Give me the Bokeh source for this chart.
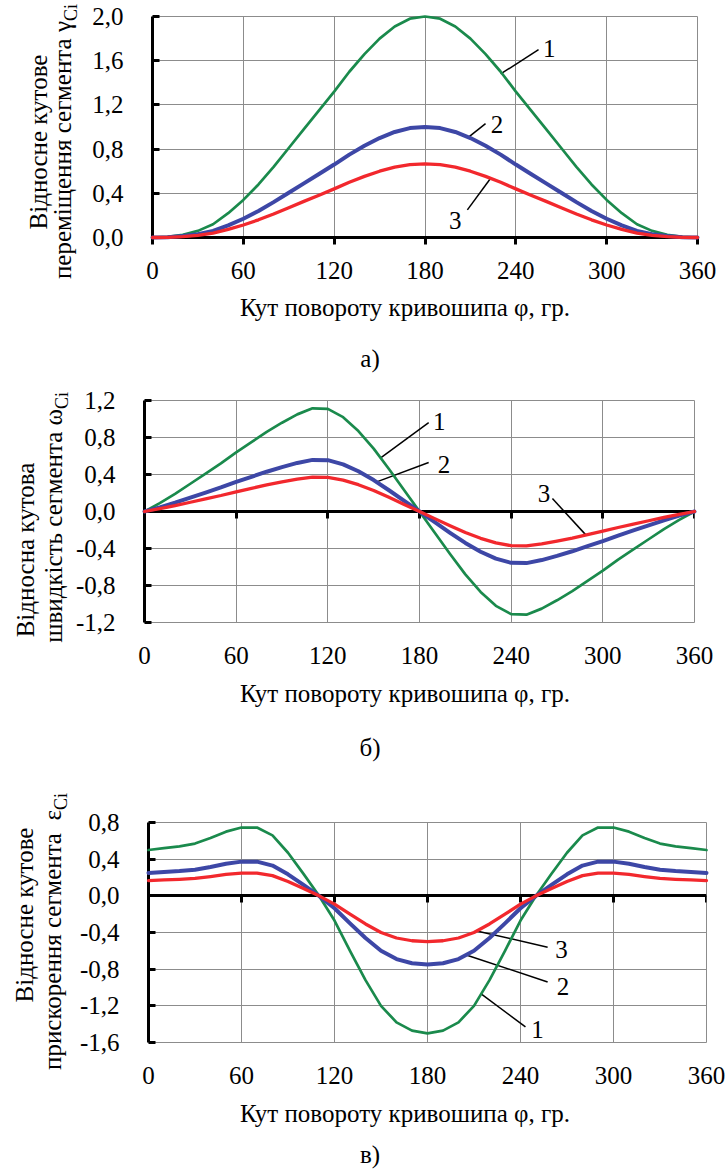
from bokeh.plotting import figure
from bokeh.models import Range1d, FixedTicker, LinearAxis, ColumnDataSource, Div
from bokeh.layouts import column, row
from bokeh.core.properties import value
from bokeh.embed import file_html
from bokeh.resources import INLINE

# ---------------- data ----------------
phi = [0, 10, 20, 30, 40, 50, 60, 70, 80, 90, 100, 110, 120, 130, 140, 150, 160, 170, 180,
       190, 200, 210, 220, 230, 240, 250, 260, 270, 280, 290, 300, 310, 320, 330, 340, 350, 360]
x_ticks = [0, 60, 120, 180, 240, 300, 360]
x_tick_labels = ["0", "60", "120", "180", "240", "300", "360"]

# a) relative angular displacement
gamma_1 = [0, 0.005, 0.025, 0.06, 0.12, 0.22, 0.34, 0.48, 0.64, 0.81, 0.98, 1.15, 1.32, 1.50, 1.66, 1.80, 1.91, 1.98, 2.00,
           1.98, 1.91, 1.80, 1.66, 1.50, 1.32, 1.15, 0.98, 0.81, 0.64, 0.48, 0.34, 0.22, 0.12, 0.06, 0.025, 0.005, 0]
gamma_2 = [0, 0.003, 0.013, 0.03, 0.06, 0.11, 0.17, 0.24, 0.32, 0.405, 0.49, 0.575, 0.66, 0.75, 0.83, 0.90, 0.955, 0.99, 1.00,
           0.99, 0.955, 0.90, 0.83, 0.75, 0.66, 0.575, 0.49, 0.405, 0.32, 0.24, 0.17, 0.11, 0.06, 0.03, 0.013, 0.003, 0]
gamma_3 = [0, 0.002, 0.008, 0.02, 0.04, 0.073, 0.113, 0.16, 0.213, 0.27, 0.327, 0.383, 0.44, 0.50, 0.553, 0.60, 0.637, 0.66, 0.667,
           0.66, 0.637, 0.60, 0.553, 0.50, 0.44, 0.383, 0.327, 0.27, 0.213, 0.16, 0.113, 0.073, 0.04, 0.02, 0.008, 0.002, 0]
gamma_ticks = [0.0, 0.4, 0.8, 1.2, 1.6, 2.0]
gamma_tick_labels = ["0,0", "0,4", "0,8", "1,2", "1,6", "2,0"]

# b) relative angular velocity
omega_1 = [0, 0.09, 0.19, 0.30, 0.41, 0.52, 0.64, 0.75, 0.86, 0.96, 1.05, 1.115, 1.11, 1.02, 0.87, 0.68, 0.46, 0.23, 0,
           -0.23, -0.46, -0.68, -0.87, -1.02, -1.11, -1.115, -1.05, -0.96, -0.86, -0.75, -0.64, -0.52, -0.41, -0.30, -0.19, -0.09, 0]
omega_2 = [0, 0.045, 0.095, 0.15, 0.205, 0.26, 0.32, 0.375, 0.43, 0.48, 0.525, 0.558, 0.555, 0.51, 0.435, 0.34, 0.23, 0.115, 0,
           -0.115, -0.23, -0.34, -0.435, -0.51, -0.555, -0.558, -0.525, -0.48, -0.43, -0.375, -0.32, -0.26, -0.205, -0.15, -0.095, -0.045, 0]
omega_3 = [0, 0.03, 0.063, 0.10, 0.137, 0.173, 0.213, 0.25, 0.287, 0.32, 0.35, 0.372, 0.37, 0.34, 0.29, 0.227, 0.153, 0.077, 0,
           -0.077, -0.153, -0.227, -0.29, -0.34, -0.37, -0.372, -0.35, -0.32, -0.287, -0.25, -0.213, -0.173, -0.137, -0.10, -0.063, -0.03, 0]
omega_ticks = [-1.2, -0.8, -0.4, 0.0, 0.4, 0.8, 1.2]
omega_tick_labels = ["-1,2", "-0,8", "-0,4", "0,0", "0,4", "0,8", "1,2"]

# c) relative angular acceleration
eps_1 = [0.50, 0.52, 0.54, 0.57, 0.63, 0.70, 0.745, 0.745, 0.66, 0.47, 0.24, 0.00, -0.27, -0.60, -0.92, -1.20, -1.38, -1.47, -1.50,
         -1.47, -1.38, -1.20, -0.92, -0.60, -0.27, 0.00, 0.24, 0.47, 0.66, 0.745, 0.745, 0.70, 0.63, 0.57, 0.54, 0.52, 0.50]
eps_2 = [0.25, 0.26, 0.27, 0.285, 0.315, 0.35, 0.373, 0.373, 0.33, 0.235, 0.12, 0.0, -0.135, -0.30, -0.46, -0.60, -0.69, -0.735, -0.75,
         -0.735, -0.69, -0.60, -0.46, -0.30, -0.135, 0.0, 0.12, 0.235, 0.33, 0.373, 0.373, 0.35, 0.315, 0.285, 0.27, 0.26, 0.25]
eps_3 = [0.167, 0.173, 0.18, 0.19, 0.21, 0.233, 0.248, 0.248, 0.22, 0.157, 0.08, 0.0, -0.09, -0.20, -0.307, -0.40, -0.46, -0.49, -0.50,
         -0.49, -0.46, -0.40, -0.307, -0.20, -0.09, 0.0, 0.08, 0.157, 0.22, 0.248, 0.248, 0.233, 0.21, 0.19, 0.18, 0.173, 0.167]
eps_ticks = [-1.6, -1.2, -0.8, -0.4, 0.0, 0.4, 0.8]
eps_tick_labels = ["-1,6", "-1,2", "-0,8", "-0,4", "0,0", "0,4", "0,8"]

# curve number callouts (leader start on curve, leader end, label position)
ann_a = dict(label=["1", "2", "3"], x0=[230, 209, 223], y0=[1.48, 0.91, 0.53],
             x1=[255, 220, 208], y1=[1.70, 1.03, 0.25], tx=[262, 227.5, 200], ty=[1.71, 1.02, 0.15])
ann_b = dict(label=["1", "2", "3"], x0=[154.6, 152, 288.7], y0=[0.58, 0.32, -0.25],
             x1=[186, 186, 267], y1=[0.96, 0.53, 0.14], tx=[193, 196, 261.5], ty=[0.97, 0.51, 0.19])
ann_c = dict(label=["3", "2", "1"], x0=[211, 205, 214.6], y0=[-0.38, -0.645, -1.07],
             x1=[257.5, 257.5, 243.2], y1=[-0.56, -0.94, -1.43], tx=[266.5, 267.4, 251], ty=[-0.58, -0.99, -1.46])

# ---------------- style ----------------
FONT = "Liberation Serif"
GREEN, BLUE, RED = "#1a8a4c", "#3d47a6", "#f2282d"
GRID = "#8c8c8c"
XLABEL = "Кут повороту кривошипа φ, гр."
TXT = "font-family:'Liberation Serif';font-size:25px;line-height:25px;color:#000;white-space:pre;"


def make_fig(y_rng, y_ticks, y_labels, series, ann, geom, zero_axis, xstand):
    T, B, R, fw, fh = geom
    p = figure(frame_width=fw, frame_height=fh, min_border_left=70, min_border_right=R,
               min_border_top=T, min_border_bottom=B,
               x_range=Range1d(0, 360), y_range=Range1d(*y_rng),
               output_backend="svg", toolbar_location=None, tools="")
    p.outline_line_color = GRID
    p.outline_line_width = 1
    p.background_fill_color = "white"
    p.border_fill_color = "white"

    for g in p.grid:
        g.grid_line_color = GRID
        g.grid_line_width = 1
        g.level = "image"
    p.xgrid.ticker = FixedTicker(ticks=x_ticks)
    p.ygrid.ticker = FixedTicker(ticks=y_ticks)

    yax = p.yaxis[0]
    yax.ticker = FixedTicker(ticks=y_ticks)
    yax.major_label_overrides = dict(zip(y_ticks, y_labels))
    yax.axis_line_width = 3
    yax.axis_line_color = "black"
    yax.major_tick_in = 7
    yax.major_tick_out = 0
    yax.major_tick_line_width = 3
    yax.minor_tick_line_color = None
    yax.major_label_text_font = FONT
    yax.major_label_text_font_size = "25px"
    yax.major_label_text_color = "black"
    yax.major_label_standoff = 29

    xax = p.xaxis[0]
    xax.ticker = FixedTicker(ticks=x_ticks)
    xax.major_label_overrides = dict(zip(x_ticks, x_tick_labels))
    xax.minor_tick_line_color = None
    xax.major_label_text_font = FONT
    xax.major_label_text_font_size = "25px"
    xax.major_label_text_color = "black"
    xax.major_label_standoff = xstand
    if zero_axis:
        xax.axis_line_color = None
        xax.major_tick_line_color = None
        za = LinearAxis(fixed_location=0, ticker=FixedTicker(ticks=x_ticks),
                        major_label_overrides={t: "" for t in x_ticks},
                        axis_line_width=3, axis_line_color="black",
                        major_tick_in=0, major_tick_out=7, major_tick_line_width=3,
                        minor_tick_line_color=None)
        p.add_layout(za, "below")
    else:
        xax.axis_line_width = 3
        xax.axis_line_color = "black"
        xax.major_tick_in = 0
        xax.major_tick_out = 7
        xax.major_tick_line_width = 3

    for ys, col, w in series:
        r = p.line(phi, ys, line_color=col, line_width=w, line_join="round", line_cap="round")
        r.level = "annotation"

    src = ColumnDataSource(ann)
    p.segment(x0="x0", y0="y0", x1="x1", y1="y1", source=src, line_color="black", line_width=1.5)
    p.text(x="tx", y="ty", text="label", source=src, text_font=value(FONT),
           text_font_size=value("25px"), text_align="center", text_baseline="middle",
           text_color="black")
    return p


def ylabel_div(w, h, line1, line2, pos1, pos2):
    (x1, y1), (x2, y2) = pos1, pos2
    html = (
        f'<div style="position:relative;width:{w}px;height:{h}px;">'
        f'<div style="position:absolute;left:{x1}px;top:{y1}px;transform-origin:0 0;'
        f'transform:rotate(-90deg) translate(-50%,-50%);{TXT}">{line1}</div>'
        f'<div style="position:absolute;left:{x2}px;top:{y2}px;transform-origin:0 0;'
        f'transform:rotate(-90deg) translate(-100%,-50%);{TXT}">{line2}'
        f'<span style="font-size:18px;position:relative;top:6px;">Ci</span></div>'
        f'</div>'
    )
    return Div(text=html, width=w, height=h, margin=(0, 0, 0, 0), styles={"overflow": "visible"})


def below_div(h, lab_pos, cap_pos, caption):
    (lx, ly), (cx, cy) = lab_pos, cap_pos
    html = (
        f'<div style="position:relative;width:723px;height:{h}px;">'
        f'<div style="position:absolute;left:{lx}px;top:{ly}px;transform:translateX(-50%);{TXT}">{XLABEL}</div>'
        f'<div style="position:absolute;left:{cx}px;top:{cy}px;transform:translateX(-50%);{TXT}">{caption}</div>'
        f'</div>'
    )
    return Div(text=html, width=723, height=h, margin=(0, 0, 0, 0), styles={"overflow": "visible"})


# panel a)
fa = make_fig((0, 2.0), gamma_ticks, gamma_tick_labels,
              [(gamma_1, GREEN, 2.7), (gamma_2, BLUE, 4), (gamma_3, RED, 3.3)], ann_a,
              (16, 50, 26, 545, 221), False, 17)
la = ylabel_div(82, 287, "Відносне кутове", "переміщення сегмента γ", (38, 142), (64, 4))
ba = below_div(93, (405, 8), (370, 59), "а)")

# panel b)
fb = make_fig((-1.2, 1.2), omega_ticks, omega_tick_labels,
              [(omega_1, GREEN, 2.7), (omega_2, BLUE, 4), (omega_3, RED, 3.3)], ann_b,
              (20, 50, 31, 550, 222), True, 18)
lb = ylabel_div(72, 292, "Відносна кутова", "швидкість сегмента ω", (25, 170), (55, 12))
bb = below_div(118, (405, 9), (370, 63), "б)")

# panel c)
fc = make_fig((-1.6, 0.8), eps_ticks, eps_tick_labels,
              [(eps_1, GREEN, 2.7), (eps_2, BLUE, 4), (eps_3, RED, 3.3)], ann_c,
              (32, 50, 19, 558, 220), True, 18)
lc = ylabel_div(76, 302, "Відносне кутове", "прискорення сегмента  ε", (24, 125), (54, 3))
bc = below_div(77, (405, 9), (370, 50), "в)")

layout = column(row(la, fa), ba, row(lb, fb), bb, row(lc, fc), bc)
open("out.html", "w").write(file_html(layout, INLINE, title="chart"))
